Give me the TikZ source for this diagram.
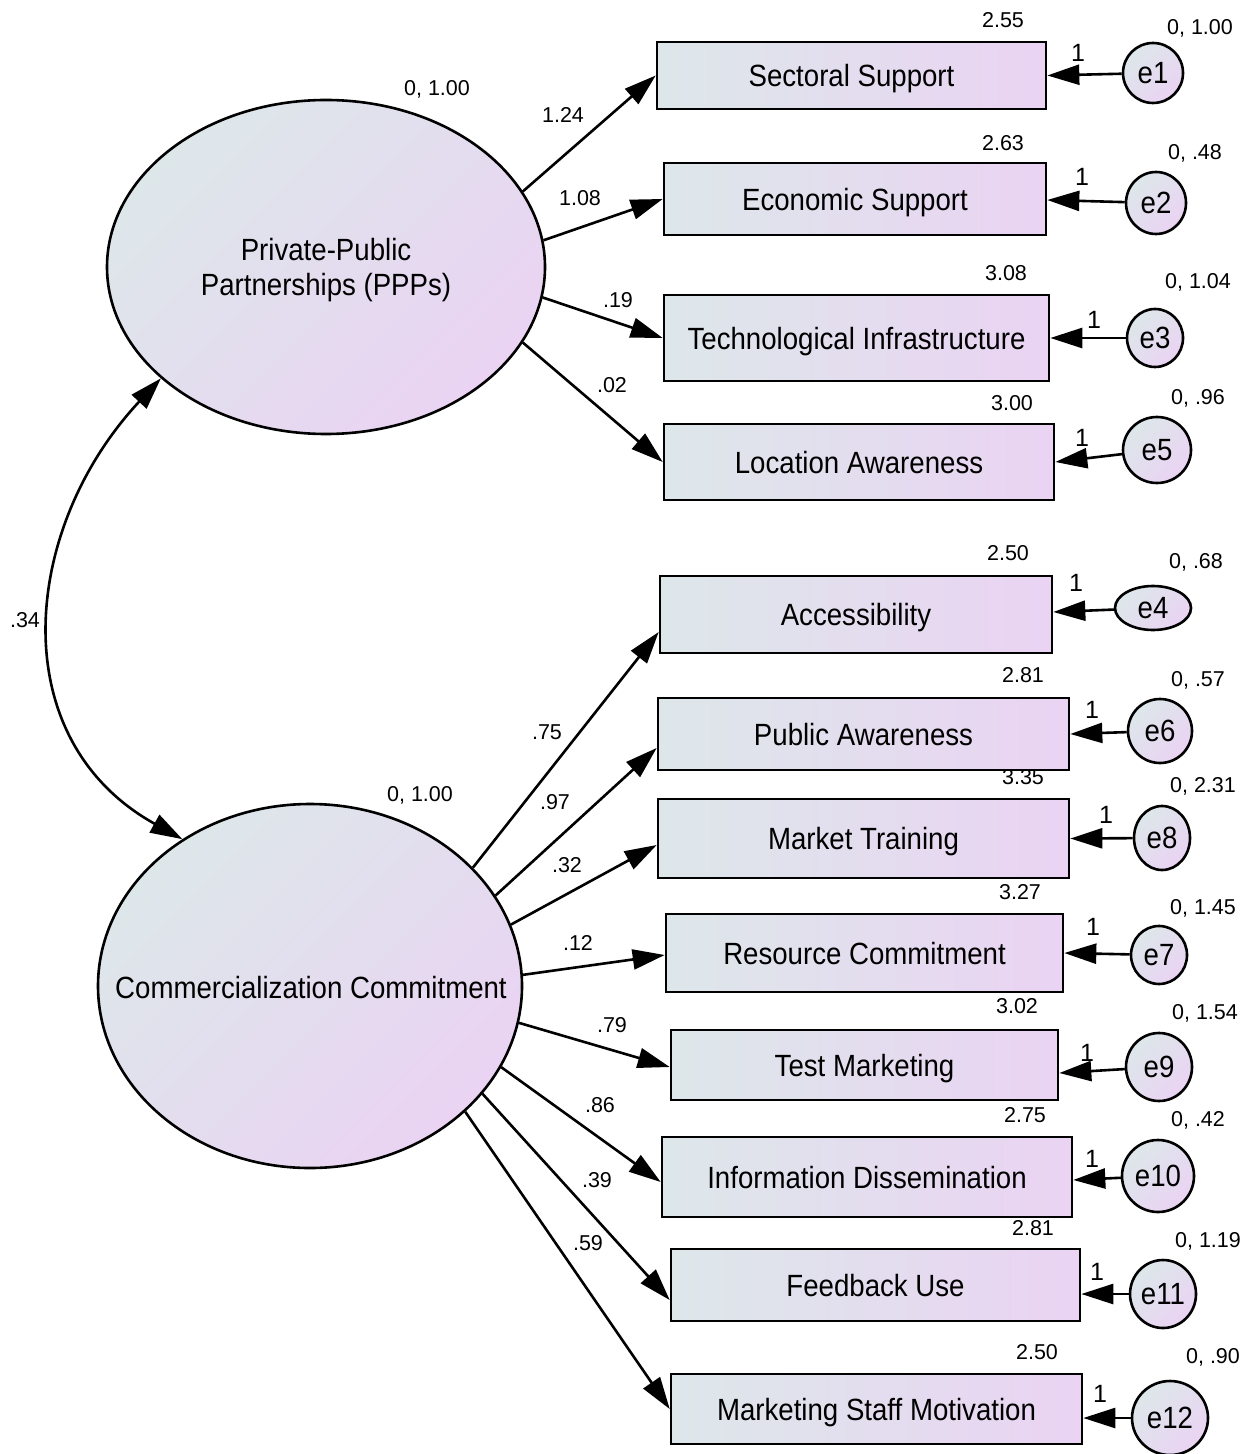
\documentclass[tikz,border=0pt]{standalone}
\usepackage{fontspec}
\setmainfont[FakeStretch=0.9]{Liberation Sans}
\newfontfamily\numfont{Liberation Sans}
\usetikzlibrary{arrows.meta,shapes.geometric}

\definecolor{shadeL}{RGB}{221,231,234}
\definecolor{shadeR}{RGB}{234,211,243}

\newcommand\boxfont{\fontsize{15.35pt}{17.5pt}\selectfont}
\newcommand\valfont{\numfont\fontsize{10.75pt}{12pt}\selectfont}
\newcommand\fixfont{\numfont\fontsize{12.5pt}{14pt}\selectfont}

\begin{document}
\begin{tikzpicture}[x=0.5pt,y=-0.5pt,
  obs/.style={draw, line width=1.3pt, rectangle, inner sep=0pt,
    top color=shadeL, bottom color=shadeR, shading angle=90, font=\boxfont,
    text height=11.3pt, text depth=0pt},
  lat/.style={draw, line width=1.3pt, ellipse, inner sep=0pt,
    top color=shadeL, bottom color=shadeR, shading angle=45},
  err/.style={draw, line width=1.3pt, ellipse, inner sep=0pt,
    top color=shadeL, bottom color=shadeR, shading angle=45, font=\boxfont},
  lattext/.style={font=\boxfont, align=center, inner sep=0pt},
  val/.style={font=\valfont, inner sep=0pt},
  fix/.style={font=\fixfont, inner sep=0pt},
  link/.style={line width=1.3pt, -{Triangle[length=16pt,width=10pt]}},
  covarc/.style={line width=1.3pt, {Triangle[length=16pt,width=10pt]}-{Triangle[length=16pt,width=10pt]}}
]
\useasboundingbox (0,0) rectangle (1257,1454);

% latent variables
\node[lat, minimum width=219pt, minimum height=167pt] (ppp) at (326,267) {};
\node[lattext] (ppptext) at (326,270) {Private-Public\\Partnerships (PPPs)};
\node[lat, minimum width=212pt, minimum height=182pt] (cc) at (310,986) {};
\node[lattext] (cctext) at (311,988) {Commercialization Commitment};
\node[val] (pppvar) at (437,89) {0, 1.00};
\node[val] (ccvar) at (420,795) {0, 1.00};

% observed indicators
\node[obs, minimum width=194.5pt, minimum height=33.5pt] (b1) at (851.5,75.5) {Sectoral Support};
\node[obs, minimum width=191pt, minimum height=36pt] (b2) at (855,199) {Economic Support};
\node[obs, minimum width=192.5pt, minimum height=43pt] (b3) at (856.5,338) {Technological Infrastructure};
\node[obs, minimum width=195pt, minimum height=38pt] (b4) at (859,462) {Location Awareness};
\node[obs, minimum width=196pt, minimum height=38.5pt] (b5) at (856,614.5) {Accessibility};
\node[obs, minimum width=205.5pt, minimum height=36pt] (b6) at (863.5,734) {Public Awareness};
\node[obs, minimum width=205.5pt, minimum height=39.5pt] (b7) at (863.5,838.5) {Market Training};
\node[obs, minimum width=198.5pt, minimum height=39pt] (b8) at (864.5,953) {Resource Commitment};
\node[obs, minimum width=193.5pt, minimum height=35pt] (b9) at (864.5,1065) {Test Marketing};
\node[obs, minimum width=205pt, minimum height=40pt] (b10) at (867,1177) {Information Dissemination};
\node[obs, minimum width=204.5pt, minimum height=36pt] (b11) at (875.5,1285) {Feedback Use};
\node[obs, minimum width=205.5pt, minimum height=35pt] (b12) at (876.5,1409) {Marketing Staff Motivation};

% intercepts
\node[val] (m1) at (1003,20) {2.55};
\node[val] (m2) at (1003,143) {2.63};
\node[val] (m3) at (1006,273) {3.08};
\node[val] (m4) at (1012,403) {3.00};
\node[val] (m5) at (1008,553) {2.50};
\node[val] (m6) at (1023,675) {2.81};
\node[val] (m7) at (1023,777) {3.35};
\node[val] (m8) at (1020,892) {3.27};
\node[val] (m9) at (1017,1006) {3.02};
\node[val] (m10) at (1025,1115) {2.75};
\node[val] (m11) at (1033,1228) {2.81};
\node[val] (m12) at (1037,1352) {2.50};

% error terms
\node[err, minimum width=30pt, minimum height=30pt] (e1) at (1153,73) {e1};
\node[err, minimum width=30pt, minimum height=31pt] (e2) at (1156,203) {e2};
\node[err, minimum width=28pt, minimum height=29pt] (e3) at (1155,338) {e3};
\node[err, minimum width=34pt, minimum height=33pt] (e5) at (1157,450) {e5};
\node[err, minimum width=38pt, minimum height=22pt] (e4) at (1153,608) {e4};
\node[err, minimum width=32pt, minimum height=32pt] (e6) at (1160,731) {e6};
\node[err, minimum width=28pt, minimum height=32pt] (e8) at (1162,838) {e8};
\node[err, minimum width=28pt, minimum height=29pt] (e7) at (1159,955) {e7};
\node[err, minimum width=33pt, minimum height=34pt] (e9) at (1159,1067) {e9};
\node[err, minimum width=36pt, minimum height=36pt] (e10) at (1158,1176) {e10};
\node[err, minimum width=33pt, minimum height=34pt] (e11) at (1163,1294) {e11};
\node[err, minimum width=38pt, minimum height=37pt] (e12) at (1170,1418) {e12};

% error variances
\node[val] (v1) at (1200,28) {0, 1.00};
\node[val] (v2) at (1195,153) {0, .48};
\node[val] (v3) at (1198,282) {0, 1.04};
\node[val] (v5) at (1198,398) {0, .96};
\node[val] (v4) at (1196,562) {0, .68};
\node[val] (v6) at (1198,680) {0, .57};
\node[val] (v8) at (1203,786) {0, 2.31};
\node[val] (v7) at (1203,908) {0, 1.45};
\node[val] (v9) at (1205,1013) {0, 1.54};
\node[val] (v10) at (1198,1120) {0, .42};
\node[val] (v11) at (1208,1241) {0, 1.19};
\node[val] (v12) at (1213,1357) {0, .90};

% error paths fixed to 1
\foreach \e/\b/\s in {e1/b1/0,e2/b2/-0.5,e3/b3/0,e5/b4/0,e4/b5/1.25,e6/b6/0,
    e8/b7/0,e7/b8/0,e9/b9/-4,e10/b10/-1.5,e11/b11/-4.5,e12/b12/-4.5}
  \draw[link] (\e) -- ([yshift=\s pt]\b.east);
\node[fix] (f1) at (1078,53) {1};
\node[fix] (f2) at (1082,177) {1};
\node[fix] (f3) at (1094,320) {1};
\node[fix] (f5) at (1082,438) {1};
\node[fix] (f4) at (1076,583) {1};
\node[fix] (f6) at (1092,710) {1};
\node[fix] (f8) at (1106,815) {1};
\node[fix] (f7) at (1093,927) {1};
\node[fix] (f9) at (1087,1053) {1};
\node[fix] (f10) at (1092,1159) {1};
\node[fix] (f11) at (1097,1272) {1};
\node[fix] (f12) at (1100,1394) {1};

% loadings of PPPs
\draw[link] (ppp.21.6) -- (b1.west);
\draw[link] (ppp.7.9) -- (b2.west);
\draw[link] (ppp.-8.2) -- (b3.west);
\draw[link] (ppp.-21.4) -- (b4.west);
\node[val] (l1) at (563,115) {1.24};
\node[val] (l2) at (580,198) {1.08};
\node[val] (l3) at (618,300) {.19};
\node[val] (l4) at (612,385) {.02};

% loadings of commercialization commitment
\draw[link] (cc.36.1) -- ([yshift=-8.75pt]b5.west);
\draw[link] (cc.26.9) -- ([yshift=-7pt]b6.west);
\draw[link] (cc.17.3) -- ([yshift=-3.25pt]b7.west);
\draw[link] (cc.3.5) -- ([yshift=-1pt]b8.west);
\draw[link] (cc.-10) -- ([yshift=-1pt]b9.west);
\draw[link] (cc.-23.6) -- ([yshift=-2.5pt]b10.west);
\draw[link] (cc.-32.8) -- ([yshift=-7.5pt]b11.west);
\draw[link] (cc.-39.8) -- (b12.west);
\node[val] (l5) at (547,732) {.75};
\node[val] (l6) at (555,802) {.97};
\node[val] (l7) at (567,865) {.32};
\node[val] (l8) at (578,943) {.12};
\node[val] (l9) at (612,1025) {.79};
\node[val] (l10) at (600,1105) {.86};
\node[val] (l11) at (597,1180) {.39};
\node[val] (l12) at (588,1243) {.59};

% covariance between the latent variables
\draw[covarc] (ppp.214) .. controls +(-140,150) and +(-180,-100) .. (cc.131);
\node[val] (cov) at (25,620) {.34};
\end{tikzpicture}
\end{document}
